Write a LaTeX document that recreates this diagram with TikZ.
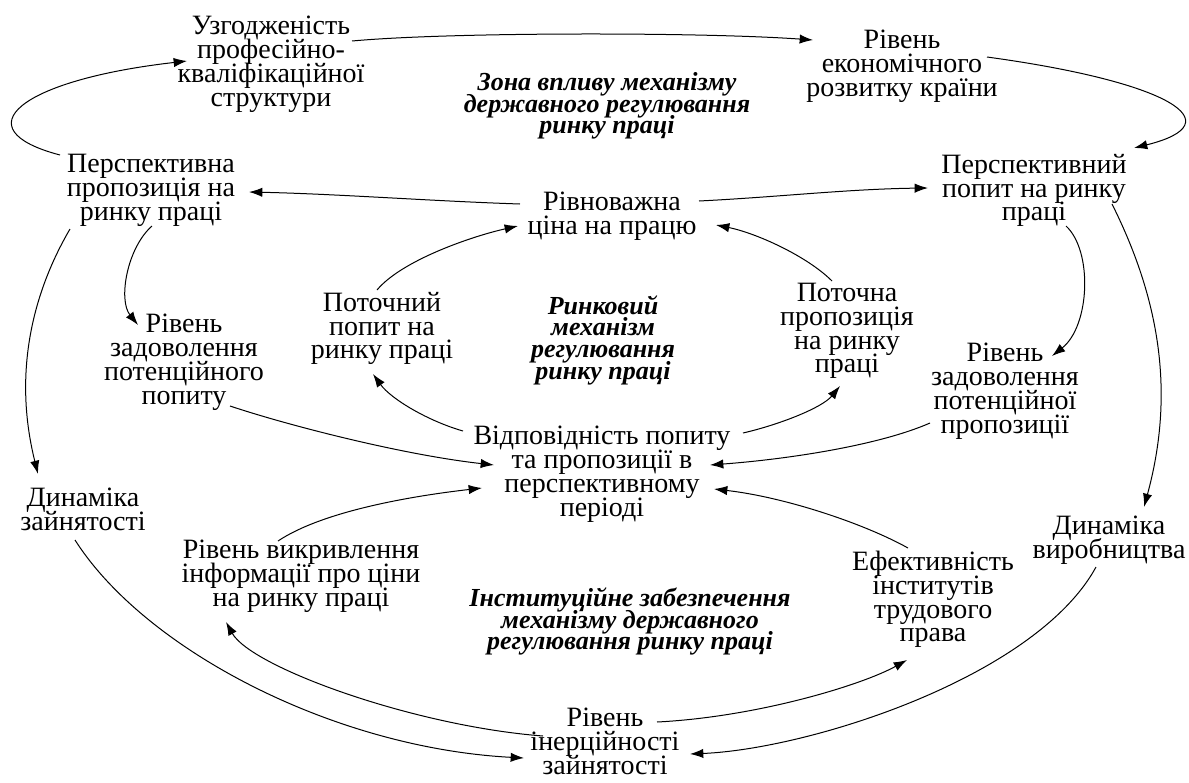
\documentclass[tikz,border=0pt]{standalone}
\usepackage{fontspec}
\setmainfont{Liberation Serif}
\usetikzlibrary{arrows.meta}
\begin{document}
% keep the tight line spacing of the labels exact
\lineskiplimit=-\maxdimen
\begin{tikzpicture}[x=0.75pt,y=-0.75pt,
  lbl/.style={align=center,inner sep=0pt,anchor=north,
    font=\fontsize{21}{17.8}\selectfont},
  zone/.style={align=center,inner sep=0pt,anchor=north,
    font=\fontsize{19.5}{16.3}\selectfont\bfseries\itshape},
  link/.style={-{Latex[length=10pt,width=7pt]},line width=0.75pt},
]
\useasboundingbox (0,0) rectangle (1189,782);

% factors (each placed by the top of its text block)
\node[lbl] (A) at (271,16)  {Узгодженість\\професійно-\\кваліфікаційної\\структури};
\node[lbl] (B) at (902,30)  {Рівень\\економічного\\розвитку країни};
\node[lbl] (D) at (151,154) {Перспективна\\пропозиція на\\ринку праці};
\node[lbl] (E) at (1034,154){Перспективний\\попит на ринку\\праці};
\node[lbl] (F) at (612,192) {Рівноважна\\ціна на працю};
\node[lbl] (G) at (382,292) {Поточний\\попит на\\ринку праці};
\node[lbl] (I) at (847,283) {Поточна\\пропозиція\\на ринку\\праці};
\node[lbl] (J) at (184,314) {Рівень\\задоволення\\потенційного\\попиту};
\node[lbl] (K) at (1005,343){Рівень\\задоволення\\потенційної\\пропозиції};
\node[lbl] (L) at (602,426) {Відповідність попиту\\та пропозиції в\\перспективному\\періоді};
\node[lbl] (M) at (83,488)  {Динаміка\\зайнятості};
\node[lbl] (N) at (1109,516){Динаміка\\виробництва};
\node[lbl] (O) at (301,540) {Рівень викривлення\\інформації про ціни\\на ринку праці};
\node[lbl] (P) at (933,551) {Ефективність\\інститутів\\трудового\\права};
\node[lbl] (R) at (605,708) {Рівень\\інерційності\\зайнятості};

% zone captions
\node[zone] (C) at (607,72)    {Зона впливу механізму\\державного регулювання\\ринку праці};
\node[zone] (H) at (603,295)   {Ринковий\\механізм\\регулювання\\ринку праці};
\node[zone] (Q) at (630,587.5) {Інституційне забезпечення\\механізму державного\\регулювання ринку праці};

% connections
\draw[link] ([shift={(81,25)}]A.north) .. controls +(98,-9) and +(-113,-8) .. ([shift={(-89,10)}]B.north);
\draw[link] ([shift={(-91,1)}]D.north) .. controls +(-99,-26) and +(-167,19) .. ([shift={(-84,45)}]A.north);
\draw[link] ([shift={(85,27)}]B.north) .. controls +(183,25) and +(101,-25) .. ([shift={(100,-6)}]E.north);
\draw[link] ([shift={(-92,12)}]F.north) .. controls +(-90,-3) and +(90,2) .. ([shift={(98,38)}]D.north);
\draw[link] ([shift={(87,9)}]F.north) .. controls +(80,-4) and +(-80,1) .. ([shift={(-106,34)}]E.north);
\draw[link] ([shift={(-5,-2)}]G.north) .. controls +(25,-30) and +(-45,10) .. ([shift={(-94,34)}]F.north);
\draw[link] ([shift={(-15,-2)}]I.north) .. controls +(-25,-25) and +(40,8) .. ([shift={(104,33)}]F.north);
\draw[link] ([shift={(-139,5)}]L.north) .. controls +(-35,-10) and +(18,25) .. ([shift={(-9,82)}]G.north);
\draw[link] ([shift={(141,7)}]L.north) .. controls +(35,-8) and +(-18,22) .. ([shift={(-7,103)}]I.north);
\draw[link] ([shift={(1,72)}]D.north) .. controls +(-25,22) and +(-20,-25) .. ([shift={(-46,11)}]J.north);
\draw[link] ([shift={(-81,75)}]D.north) .. controls +(-38,65) and +(-25,-100) .. ([shift={(-45,-14)}]M.north);
\draw[link] ([shift={(32,72)}]E.north) .. controls +(27,25) and +(38,-30) .. ([shift={(47,13)}]K.north);
\draw[link] ([shift={(78,50)}]E.north) .. controls +(50,100) and +(30,-110) .. ([shift={(35,-9)}]N.north);
\draw[link] ([shift={(46,92)}]J.north) .. controls +(60,20) and +(-90,-10) .. ([shift={(-108,39)}]L.north);
\draw[link] ([shift={(-75,80)}]K.north) .. controls +(-50,22) and +(80,-6) .. ([shift={(108,39)}]L.north);
\draw[link] ([shift={(-23,1)}]O.north) .. controls +(45,-30) and +(-70,8) .. ([shift={(-120,62)}]L.north);
\draw[link] ([shift={(-25,-3)}]P.north) .. controls +(-45,-25) and +(70,8) .. ([shift={(112,63)}]L.north);
\draw[link] ([shift={(-8,52)}]M.north) .. controls +(70,110) and +(-190,-10) .. ([shift={(-81,50)}]R.north);
\draw[link] ([shift={(-62,28)}]R.north) .. controls +(-130,-10) and +(25,45) .. ([shift={(-75,82)}]O.north);
\draw[link] ([shift={(52,14)}]R.north) .. controls +(100,-5) and +(-45,25) .. ([shift={(-26,109)}]P.north);
\draw[link] ([shift={(-13,51)}]N.north) .. controls +(-60,110) and +(120,-5) .. ([shift={(85,46)}]R.north);
\end{tikzpicture}
\end{document}
